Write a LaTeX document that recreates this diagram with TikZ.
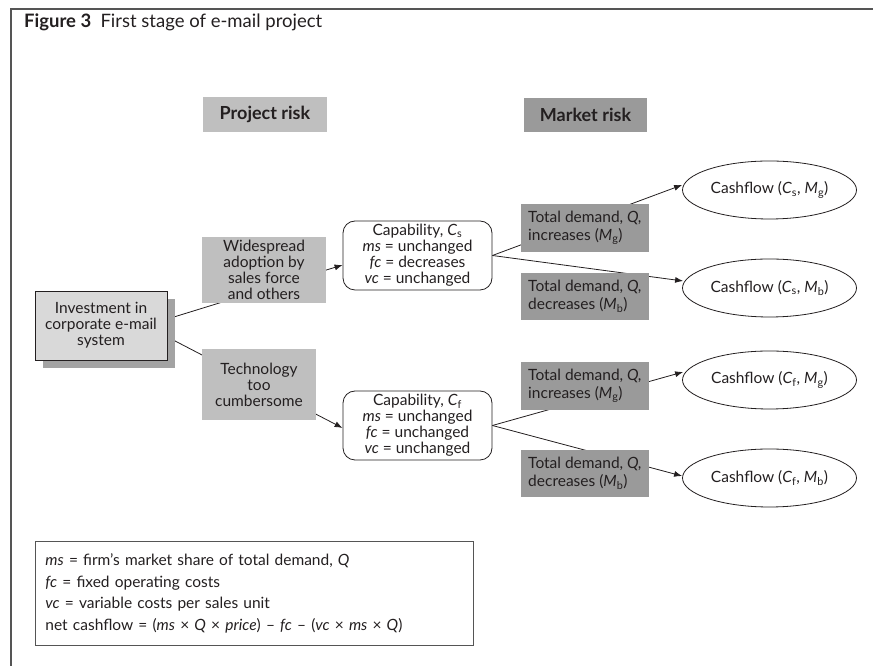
\documentclass[tikz,border=0pt]{standalone}
\usepackage{fontspec}
\setmainfont{Lato}
\usetikzlibrary{shapes.geometric,arrows.meta,backgrounds,shadows,calc}

\definecolor{ink}{HTML}{231F20}
\definecolor{lightbox}{HTML}{BFBFBF}
\definecolor{darkbox}{HTML}{9A9A9A}
\definecolor{investfill}{HTML}{D9D9D9}
\definecolor{shadowgray}{HTML}{A3A3A3}
\definecolor{framegray}{HTML}{555555}

\tikzset{
  base/.style={font=\fontsize{15.5}{16}\selectfont, text=ink, inner sep=0pt},
  headlight/.style={base, fill=lightbox, font=\fontsize{18}{18}\selectfont\bfseries},
  headdark/.style={base, fill=darkbox, font=\fontsize{18}{18}\selectfont\bfseries},
  eventbox/.style={base, fill=lightbox, align=center},
  demandbox/.style={base, fill=darkbox, align=left, inner xsep=5pt,
    font=\fontsize{15.5}{17.5}\selectfont, minimum width=128pt},
  capbox/.style={base, draw=ink, line width=0.8pt, rounded corners=12pt,
    align=center, minimum width=149pt, minimum height=69pt},
  outcome/.style={base, ellipse, draw=ink, line width=0.8pt,
    minimum width=174pt, minimum height=58pt},
  link/.style={draw=ink, line width=0.8pt},
  arrowlink/.style={link, -{Latex[length=8pt,width=6pt]}},
}

\newcommand{\sub}[1]{\textsubscript{#1}}

\begin{document}
\begin{tikzpicture}[x=1pt,y=1pt]
\useasboundingbox (0,0) rectangle (873,666);

% outer frame: top and left rules only
\draw[framegray, line width=1.6pt] (873,657) -- (11,657) -- (11,0);

% title
\node[base, anchor=base west, font=\fontsize{18.5}{18.5}\selectfont] (title) at (24,638)
  {\textbf{Figure 3}\hspace{0.5em}First stage of e-mail project};

% column headings
\node[headlight, minimum width=124pt, minimum height=35pt] (prisk) at (265,551.5) {Project risk};
\node[headdark, minimum width=123pt, minimum height=34pt] (mrisk) at (585.5,551) {Market risk};

% root decision
\node[base, draw=ink, line width=0.8pt, fill=investfill, align=center,
      minimum width=132pt, minimum height=69pt,
      drop shadow={shadow xshift=8pt, shadow yshift=-8pt, fill=shadowgray, opacity=1}]
  (invest) at (101,340.5) {Investment in\\corporate e-mail\\system};

% project-risk events
\node[eventbox, minimum width=124pt, minimum height=66pt] (wide) at (264,396)
  {Widespread\\adoption by\\sales force\\and others};
\node[eventbox, minimum width=114pt, minimum height=71pt] (tech) at (259,281.5)
  {Technology\\too\\cumbersome};

% capability states
\node[capbox] (cs) at (417.5,410.5)
  {Capability, \textit{C}\sub{s}\\\textit{ms} = unchanged\\\textit{fc} = decreases\\\textit{vc} = unchanged};
\node[capbox] (cf) at (417.5,240.5)
  {Capability, \textit{C}\sub{f}\\\textit{ms} = unchanged\\\textit{fc} = unchanged\\\textit{vc} = unchanged};

% market-risk events
\node[demandbox, minimum height=48pt] (tdsg) at (585,438)
  {Total demand, \textit{Q,}\\increases (\textit{M}\sub{g})};
\node[demandbox, minimum height=47pt] (tdsb) at (585,369.5)
  {Total demand, \textit{Q,}\\decreases (\textit{M}\sub{b})};
\node[demandbox, minimum height=48pt] (tdfg) at (585,280)
  {Total demand, \textit{Q,}\\increases (\textit{M}\sub{g})};
\node[demandbox, minimum height=47pt] (tdfb) at (585,192.5)
  {Total demand, \textit{Q,}\\decreases (\textit{M}\sub{b})};

% cashflow outcomes
\node[outcome] (csg) at (769.5,476) {Cashflow (\textit{C}\sub{s}, \textit{M}\sub{g})};
\node[outcome] (csb) at (769.5,378) {Cashflow (\textit{C}\sub{s}, \textit{M}\sub{b})};
\node[outcome] (cfg) at (769.5,286) {Cashflow (\textit{C}\sub{f}, \textit{M}\sub{g})};
\node[outcome] (cfb) at (769.5,188) {Cashflow (\textit{C}\sub{f}, \textit{M}\sub{b})};

% legend
\node[base, draw=framegray, line width=0.9pt, align=left, anchor=north west,
      text width=418pt, inner xsep=10pt, inner ysep=0pt, minimum height=104pt,
      font=\fontsize{15.5}{21.5}\selectfont] (legend) at (35,125)
  {\textit{ms} = firm’s market share of total demand, \textit{Q}\\
   \textit{fc} = fixed operating costs\\
   \textit{vc} = variable costs per sales unit\\
   net cashflow = (\textit{ms} × \textit{Q} × \textit{price}) – \textit{fc} – (\textit{vc} × \textit{ms} × \textit{Q})};

% connectors sit behind the boxes
\begin{scope}[on background layer]
  \draw[arrowlink] ($(invest.east)+(0,6.5)$) -- ($(cs.west)+(0,-9.5)$);
  \draw[arrowlink] ($(invest.east)+(0,-11.5)$) -- ($(cf.west)+(0,-2.5)$);
  \draw[arrowlink] (cs.east) -- ($(csg.west)+(0,5)$);
  \draw[arrowlink] (cs.east) -- ($(csb.west)+(1,7)$);
  \draw[arrowlink] (cf.east) -- ($(cfg.west)+(1,8)$);
  \draw[arrowlink] (cf.east) -- ($(cfb.west)+(0,2)$);
\end{scope}
\end{tikzpicture}
\end{document}
